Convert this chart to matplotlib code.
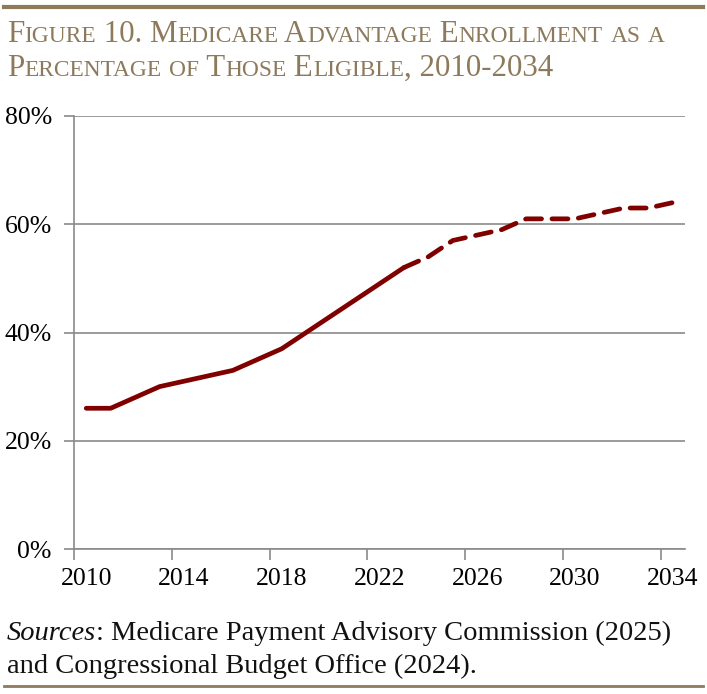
import re
import matplotlib
matplotlib.use("Agg")
import matplotlib.pyplot as plt
from matplotlib.lines import Line2D

# data
years = list(range(2010, 2035))
share = [26, 26, 28, 30, 31, 32, 33, 35, 37, 40, 43, 46, 49, 52,
         54, 57, 58, 59, 61, 61, 61, 62, 63, 63, 64]
last_actual = 2023          # solid up to here, dashed projection after
year_labels = [str(y) for y in range(2010, 2035, 4)]
yticks = [0, 20, 40, 60, 80]

title_lines = ["Figure 10. Medicare Advantage Enrollment as a",
               "Percentage of Those Eligible, 2010-2034"]
source_lines = [("Sources", ": Medicare Payment Advisory Commission (2025)"),
                ("", "and Congressional Budget Office (2024).")]

BROWN = "#8C7A5B"
RED = "#800000"
GRID = "#8a8a8a"
SERIF = "Liberation Serif"
W, H = 707, 694

fig = plt.figure(figsize=(W / 100, H / 100), dpi=100)
ax = fig.add_axes([74 / W, 1 - 549 / H, (685 - 74) / W, (549 - 116) / H])

pos = [i + 0.5 for i in range(len(years))]
k = years.index(last_actual)
ax.plot(pos[:k + 1], share[:k + 1], color=RED, lw=3.4,
        solid_capstyle="round", solid_joinstyle="round", zorder=3)
ax.plot(pos[k:], share[k:], color=RED, lw=3.4, dashes=(3.4, 2.2),
        dash_capstyle="round", dash_joinstyle="round", zorder=3)

ax.set_xlim(0, len(years))
ax.set_ylim(0, 80)
ax.set_yticks(yticks)
ax.set_yticklabels([f"{v}%" for v in yticks], family=SERIF)
ax.set_xticks(range(0, len(years), 4))
ax.set_xticks([p for p, y in zip(pos, years) if str(y) in year_labels], minor=True)
ax.set_xticklabels(year_labels, minor=True, family=SERIF)
ax.tick_params(axis="x", which="major", length=8, width=1.2, color=GRID,
               labelbottom=False)
ax.tick_params(axis="x", which="minor", length=0, labelsize=18.5, pad=14)
ax.tick_params(axis="y", length=7, width=1.2, color=GRID, labelsize=18.5, pad=9)
ax.grid(axis="y", color=GRID, lw=1.2)
ax.set_axisbelow(True)
for s in ["top", "right"]:
    ax.spines[s].set_visible(False)
for s in ["left", "bottom"]:
    ax.spines[s].set_color(GRID)
    ax.spines[s].set_linewidth(1.2)

renderer = fig.canvas.get_renderer()


def advance(s, size, style="normal"):
    # ink width of "x"+s+"x" minus "xx" gives the pen advance of s
    def ink(t):
        txt = fig.text(0, 0, t, fontsize=size, family=SERIF, style=style)
        w = txt.get_window_extent(renderer).width
        txt.remove()
        return w
    return ink("x" + s + "x") - ink("xx")


def small_caps(x, y, line, big=22.3, small=16.8):
    for part in re.findall(r"[a-z]+|[^a-z]+", line):
        size = small if part.islower() else big
        fig.text(x / W, 1 - y / H, part.upper(), fontsize=size, family=SERIF,
                 color=BROWN, va="baseline", ha="left")
        x += advance(part.upper(), size)


small_caps(7, 41.7, title_lines[0])
small_caps(7, 76, title_lines[1])

for (ital, rest), yb in zip(source_lines, [640, 673]):
    x = 7
    if ital:
        fig.text(x / W, 1 - yb / H, ital, fontsize=20.5, family=SERIF,
                 style="italic", color="#111111", va="baseline")
        x += advance(ital, 20.5, "italic")
    fig.text(x / W, 1 - yb / H, rest, fontsize=20.5, family=SERIF,
             color="#111111", va="baseline")

# brown rules at top and bottom
fig.add_artist(Line2D([4 / W, 703 / W], [1 - 7 / H, 1 - 7 / H], color=BROWN, lw=3))
fig.add_artist(Line2D([4 / W, 703 / W], [1 - 686 / H, 1 - 686 / H], color=BROWN, lw=2))

fig.savefig("out.png", dpi=100)
